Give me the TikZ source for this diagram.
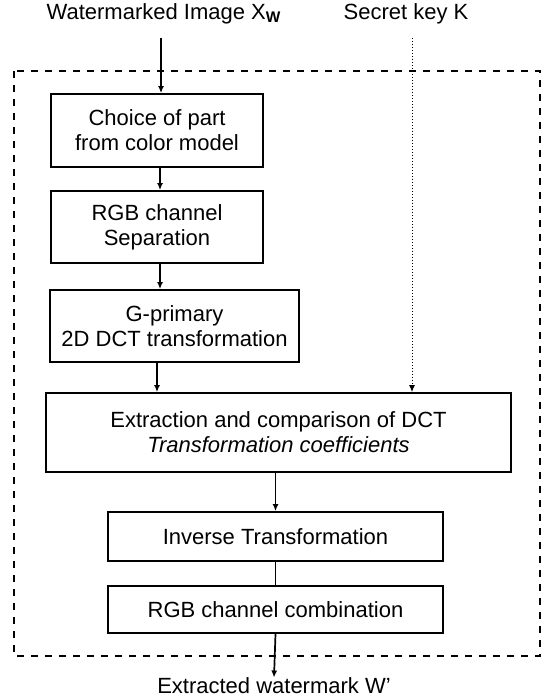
\documentclass[tikz,border=0pt]{standalone}
\usepackage{fontspec}
\setmainfont{Liberation Sans}
\usetikzlibrary{arrows.meta,calc}
\begin{document}
\begin{tikzpicture}[x=0.5pt,y=-0.5pt,
  box/.style={draw, line width=0.9pt, align=center, inner sep=0pt,
    font=\fontsize{11}{12.5}\selectfont},
  lbl/.style={inner sep=0pt, font=\fontsize{11}{12.5}\selectfont},
  conn/.style={line width=0.85pt, -{Latex[length=3.5pt,width=3pt]}},
  plainconn/.style={line width=0.85pt},
  keyconn/.style={line width=0.5pt, dash pattern=on 0.6pt off 0.9pt, -{Latex[length=3.5pt,width=3pt]}},
  frame/.style={line width=0.65pt, dash pattern=on 3.5pt off 3.5pt}]
\useasboundingbox (0,0) rectangle (550,700);
% outer dashed frame
\draw[frame] (14,71) rectangle (540,656);
% labels
\node[lbl] (xw) at (164,14) {Watermarked Image X\textsubscript{\textbf{W}}};
\node[lbl] (key) at (406,14) {Secret key K};
\node[lbl] (out) at (274,686) {Extracted watermark W'};
\coordinate (xin) at (161,38);
\coordinate (kin) at (412,38);
% boxes
\node[box, minimum width=106pt, minimum height=36.5pt] (b1) at (157,130.5) {Choice of part\\from color model};
\node[box, minimum width=106pt, minimum height=36pt] (b2) at (157,227) {RGB channel\\Separation};
\node[box, minimum width=124.5pt, minimum height=36pt] (b3) at (174.5,326) {G-primary\\2D DCT transformation};
\node[box, minimum width=232.5pt, minimum height=39.5pt] (b4) at (278.5,432.5) {Extraction and comparison of DCT\\\itshape Transformation coefficients};
\node[box, minimum width=167.5pt, minimum height=24.5pt] (b5) at (275.5,536.5) {Inverse Transformation};
\node[box, minimum width=167.5pt, minimum height=23.5pt] (b6) at (275.5,609.5) {RGB channel combination};
% connectors
\draw[conn] (xin) -- (xin |- b1.north);
\draw[conn] ($(b1.south)+(3,0)$) coordinate (c12) -- (c12 |- b2.north);
\draw[conn] ($(b2.south)+(3,0)$) coordinate (c23) -- (c23 |- b3.north);
\draw[conn] (b2.south |- b3.south) -- (b2.south |- b4.north);
\draw[keyconn] (kin) -- (kin |- b4.north);
\draw[conn] (b5.north |- b4.south) -- (b5.north);
\draw[plainconn] (b5.south) -- (b6.north);
\draw[conn] (b6.south) -- (out.north);
\end{tikzpicture}
\end{document}
